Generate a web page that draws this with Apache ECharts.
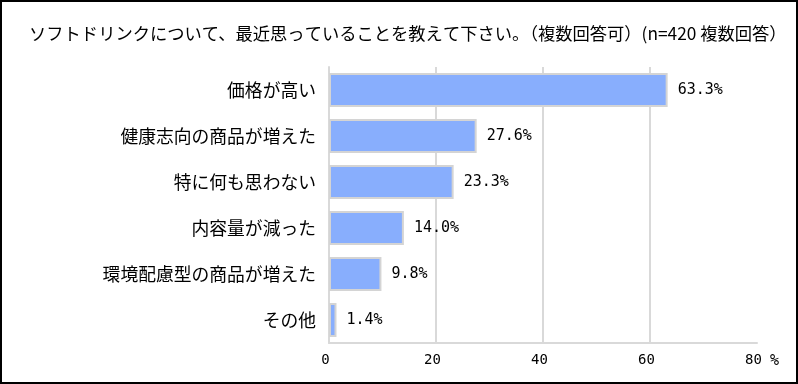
<!DOCTYPE html>
<html>
<head>
<meta charset="utf-8">
<script src="https://cdn.jsdelivr.net/npm/echarts@6/dist/echarts.min.js"></script>
<style>
html,body{margin:0;padding:0;background:#fff;}
#chart{width:798px;height:384px;}
</style>
</head>
<body>
<div id="chart"></div>
<script>
const titleText = 'ソフトドリンクについて、最近思っていることを教えて下さい。（複数回答可）(n=420 複数回答）';
const categories = ['価格が高い','健康志向の商品が増えた','特に何も思わない','内容量が減った','環境配慮型の商品が増えた','その他'];
const values = [63.3, 27.6, 23.3, 14.0, 9.8, 1.4];
const xTicks = [0, 20, 40, 60, 80];
const unitLabel = '%';

const FONT = '"Noto Sans CJK JP", sans-serif';
const MONO = '"DejaVu Sans Mono", "Liberation Mono", monospace';
const chart = echarts.init(document.getElementById('chart'), null, {renderer:'canvas'});
chart.setOption({
  animation:false,
  backgroundColor:'#fff',
  title:{
    text:titleText, left:24, top:20,
    textStyle:{fontFamily:FONT, fontSize:17.3, fontWeight:'normal', color:'#000'}
  },
  graphic:[{type:'rect', shape:{x:1,y:1,width:796,height:382}, style:{fill:'none', stroke:'#000', lineWidth:2}, silent:true}],
  grid:{left:329, right:41, top:67, bottom:41},
  xAxis:{
    type:'value', min:xTicks[0], max:xTicks[xTicks.length-1], interval:xTicks[1]-xTicks[0],
    name:unitLabel, nameLocation:'end', nameGap:13,
    nameTextStyle:{fontFamily:MONO, fontSize:15, color:'#000', verticalAlign:'top', padding:[11,0,0,0]},
    axisLine:{show:true, lineStyle:{color:'#d9d9d9', width:2}},
    axisTick:{show:false},
    axisLabel:{fontFamily:MONO, fontSize:14, color:'#000', margin:10, padding:[0,7,0,0]},
    splitLine:{show:true, lineStyle:{color:['#d9d9d9','#d9d9d9','#d9d9d9','#d9d9d9','rgba(0,0,0,0)'], width:2}}
  },
  yAxis:{
    type:'category', data:categories, inverse:true,
    axisLine:{show:true, lineStyle:{color:'#d9d9d9', width:2}},
    axisTick:{show:false},
    axisLabel:{fontFamily:FONT, fontSize:17.8, color:'#000', margin:13}
  },
  series:[{
    type:'bar', data:values, barWidth:34,
    itemStyle:{color:'#88AEFD', borderColor:'#d4d4d4', borderWidth:2},
    label:{show:true, position:'right', distance:10, fontFamily:MONO, fontSize:15, color:'#000',
      formatter:p=>p.value.toFixed(1)+'%'}
  }]
});
</script>
</body>
</html>
